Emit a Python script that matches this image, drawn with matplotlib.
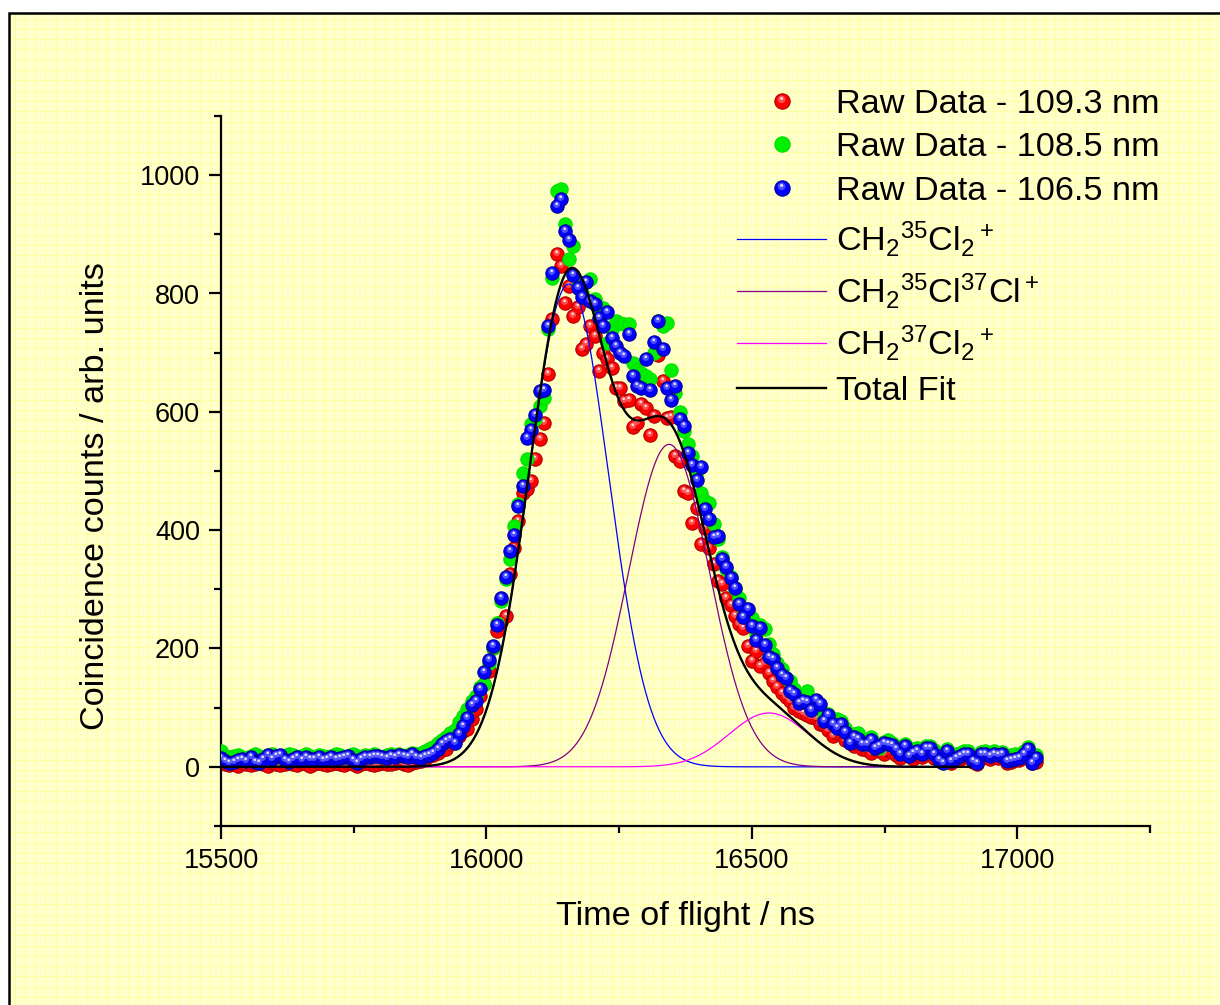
import numpy as np
import matplotlib
matplotlib.use("Agg")
import matplotlib.pyplot as plt
from matplotlib.path import Path
from matplotlib.lines import Line2D
from matplotlib.legend_handler import HandlerTuple
from matplotlib.patches import Rectangle
from matplotlib.ticker import MultipleLocator

plt.rcParams['font.family'] = ['Liberation Sans', 'DejaVu Sans']
plt.rcParams['mathtext.fontset'] = 'custom'
plt.rcParams['mathtext.rm'] = 'Liberation Sans'
plt.rcParams['mathtext.it'] = 'Liberation Sans:italic'
plt.rcParams['mathtext.bf'] = 'Liberation Sans:bold'

# ---------------------------------------------------------------------------
# Coincidence spectra (8 ns time-of-flight bins starting at 15500 ns)
# ---------------------------------------------------------------------------
tof_start = 15500
tof_step = 8

counts_1093 = [
    8, 4, 3, 5, 2, 6, 4, 3, 5, 7, 4, 2, 6, 5, 3, 4, 7, 5, 3, 6, 4, 2, 5, 6, 4, 3, 5, 7, 4, 3,
    6, 5, 2, 4, 6, 5, 3, 4, 7, 5, 4, 6, 8, 5, 3, 7,
    8, 10, 14, 18, 20, 24, 28, 30, 38, 45, 52, 60, 64, 80, 98, 120, 140, 162, 200, 230,
    245, 255, 326, 370, 415, 463,
    470, 483, 520, 554, 581, 664, 757, 866, 846, 784,
    812, 762, 777, 706, 714, 745, 728, 669, 700, 689,
    674, 640, 640, 618, 620, 574, 581, 613, 606, 561,
    593, 696, 652, 590, 591, 525, 517, 466, 463, 412,
    437, 377, 404, 370, 343, 314, 309, 285, 274, 255,
    242, 235, 205, 179, 195, 170, 176, 159, 145, 135,
    125, 118, 111, 100, 95, 91, 88, 85, 83, 73,
    70, 62, 52, 58, 56, 45, 40, 35, 38, 30,
    28, 24, 30, 26,
    22, 28, 25, 20, 15, 24, 18, 14, 20, 17, 25, 22, 15, 10, 8, 18, 6, 12, 14, 16,
    18, 8, 5, 15, 17, 14, 16, 15, 17, 7, 9, 11, 12, 16, 20, 6, 8,
]

counts_1085 = [
    26, 18, 16, 19, 20, 17, 15, 19, 21, 18, 16, 20, 22, 19, 17, 18, 21, 20, 16, 19,
    22, 18, 17, 20, 19, 16, 18, 21, 20, 17, 19, 22, 18, 16, 20, 19, 21, 18, 17, 20,
    22, 19, 21, 18, 20, 23,
    22, 24, 26, 30, 33, 41, 45, 50, 57, 62, 75, 86, 98, 112, 120, 135, 140, 175, 200, 243,
    280, 318, 351, 407, 444, 497,
    520, 580, 588, 610, 623, 740, 826, 973, 976, 917,
    858, 880, 812, 800, 820, 824, 790, 770, 775, 716,
    740, 753, 750, 748, 748, 682, 670, 665, 660, 655,
    700, 753, 745, 750, 670, 632, 600, 568, 545, 525,
    500, 463, 450, 446, 410, 385, 355, 334, 320, 300,
    286, 268, 262, 252, 225, 240, 233, 208, 190, 175,
    165, 150, 145, 132, 118, 115, 128, 105, 108, 100,
    85, 90, 80, 81, 78, 65, 50, 55, 57, 45,
    44, 50, 40, 32,
    42, 45, 40, 35, 30, 38, 28, 30, 32, 28, 36, 35, 28, 20, 18, 30, 18, 22, 24, 26,
    27, 18, 16, 25, 26, 22, 27, 24, 25, 18, 20, 22, 20, 26, 33, 18, 20,
]

counts_1065 = [
    15, 10, 7, 9, 12, 13, 10, 17, 8, 7, 14, 20, 13, 18, 20, 11, 9, 13, 16, 11,
    17, 14, 13, 16, 12, 13, 16, 13, 15, 17, 19, 12, 7, 14, 16, 16, 18, 19, 17, 15,
    19, 16, 20, 19, 17, 21,
    16, 15, 18, 20, 24, 30, 39, 44, 47, 41, 55, 69, 83, 105, 112, 132, 160, 180, 205, 240,
    285, 320, 365, 392, 440, 475,
    555, 570, 595, 635, 637, 745, 835, 948, 959, 905,
    890, 831, 809, 794, 819, 787, 782, 758, 745, 768,
    725, 711, 700, 694, 731, 660, 643, 640, 689, 637,
    718, 753, 706, 640, 620, 643, 588, 576, 530, 510,
    485, 507, 436, 419, 389, 390, 351, 338, 319, 302,
    275, 253, 267, 238, 214, 235, 206, 186, 182, 167,
    155, 150, 128, 123, 108, 112, 110, 96, 113, 106,
    78, 88, 73, 66, 73, 59, 41, 51, 47, 39,
    39, 46, 32, 35,
    40, 39, 37, 30, 22, 35, 19, 24, 27, 22, 32, 32, 22, 12, 7, 27, 10, 15, 18, 22,
    22, 10, 7, 22, 22, 19, 22, 20, 22, 10, 12, 14, 15, 22, 30, 7, 15,
]

series_labels = ['Raw Data - 109.3 nm', 'Raw Data - 108.5 nm', 'Raw Data - 106.5 nm']

# Gaussian fit components for the three isotopologues
fit_centres = [16155, 16344, 16532]
fit_amplitudes = [816, 545, 91]
fit_widths = [75, 76, 75]
fit_labels = [r'CH$_2$$^{35}$Cl$_2$$^+$',
              r'CH$_2$$^{35}$Cl$^{37}$Cl$^+$',
              r'CH$_2$$^{37}$Cl$_2$$^+$']
fit_colors = ['#0000FF', '#800080', '#FF00FF']
fit_start, fit_stop = 15500, 16910

tof = tof_start + tof_step * np.arange(len(counts_1065))

# ---------------------------------------------------------------------------
W, H = 1220, 1005
fig = plt.figure(figsize=(W / 100, H / 100), dpi=100)
fig.patch.set_facecolor('white')

# graph-paper page
bg = fig.add_axes([0, 0, 1, 1], zorder=0)
bg.set_xlim(0, W)
bg.set_ylim(H, 0)
bg.axis('off')
bg.add_patch(Rectangle((9, 13), W + 20, H + 20, facecolor='#FFFFCC', edgecolor='none'))
gx = np.arange(14.5, W, 10.3)
gy = np.arange(18.5, H, 10.3)
bg.vlines(gx, 13, H, color='#FFFFA0', lw=0.7)
bg.hlines(gy, 9, W, color='#FFFFA0', lw=0.7)
bg.plot([9, 9, W + 5], [H + 5, 13, 13], color='black', lw=1.8, solid_joinstyle='miter')

# main plot
ax = fig.add_axes([221 / W, 1 - 826 / H, 929 / W, 710 / H], zorder=1)
ax.patch.set_visible(False)
ax.set_xlim(15500, 17250)
ax.set_ylim(-100, 1100)
for side in ('top', 'right'):
    ax.spines[side].set_visible(False)
for side in ('left', 'bottom'):
    ax.spines[side].set_linewidth(1.6)

ax.xaxis.set_major_locator(MultipleLocator(500))
ax.xaxis.set_minor_locator(MultipleLocator(250))
ax.yaxis.set_major_locator(MultipleLocator(200))
ax.yaxis.set_minor_locator(MultipleLocator(100))
ax.tick_params(which='both', direction='out', width=1.6, labelsize=19.5)
ax.tick_params(which='major', length=9)
ax.tick_params(which='minor', length=5)
ax.tick_params(axis='x', pad=7)
ax.tick_params(axis='y', pad=6)

ax.set_xlabel('Time of flight / ns', fontsize=24.7)
ax.set_ylabel('Coincidence counts / arb. units', fontsize=24.7)
ax.xaxis.set_label_coords(0.5, -0.105)
ax.yaxis.set_label_coords(-0.118, 0.465)


def disc(cx, cy, r):
    """Circular marker path offset inside a fixed [-1, 1] frame."""
    frame = Path([(-1, -1), (1, 1)], [Path.MOVETO, Path.MOVETO])
    return Path.make_compound_path(frame, Path.circle((cx, cy), r))


halo_marker = disc(-0.12, 0.28, 0.5)
spot_marker = disc(-0.12, 0.40, 0.2)

ball_ms = 9.6
ball_styles = [
    dict(face='#FF0000', edge='#B00000', halo='#FF7070', spot='#FFD8D8'),
    dict(face='#00F000', edge='#00E000', halo=None, spot=None),
    dict(face='#0000FF', edge='#0000A0', halo='#7070FF', spot='#E0E0FF'),
]


def ball_artists(style, xs=None, ys=None, z=2):
    xs = [] if xs is None else xs
    ys = [] if ys is None else ys
    arts = [Line2D(xs, ys, ls='none', marker='o', ms=ball_ms, mfc=style['face'],
                   mec=style['edge'], mew=0.8, zorder=z)]
    if style['halo']:
        arts.append(Line2D(xs, ys, ls='none', marker=halo_marker, ms=ball_ms,
                           mfc=style['halo'], mec='none', alpha=0.7, zorder=z))
        arts.append(Line2D(xs, ys, ls='none', marker=spot_marker, ms=ball_ms,
                           mfc=style['spot'], mec='none', zorder=z))
    return arts


handles = []
for i, (counts, style) in enumerate(zip([counts_1093, counts_1085, counts_1065], ball_styles)):
    for art in ball_artists(style, tof, counts, z=2 + i):
        ax.add_line(art)
    handles.append(tuple(ball_artists(style)))

# fitted curves
tof_fit = np.linspace(fit_start, fit_stop, 800)
total = np.zeros_like(tof_fit)
for c, a, w, col in zip(fit_centres, fit_amplitudes, fit_widths, fit_colors):
    comp = a * np.exp(-0.5 * ((tof_fit - c) / w) ** 2)
    total += comp
    ln, = ax.plot(tof_fit, comp, color=col, lw=0.9, zorder=6)
    handles.append(ln)
tl, = ax.plot(tof_fit, total, color='black', lw=1.7, zorder=7)
handles.append(tl)

labels = series_labels + fit_labels + ['Total Fit']
leg = fig.legend(handles, labels, loc='upper left',
                 bbox_to_anchor=(737 / W, 1 - 89 / H),
                 frameon=False, fontsize=24.7, borderpad=0, borderaxespad=0,
                 handlelength=2.6, handletextpad=0.3, labelspacing=0.36,
                 markerscale=1.15,
                 handler_map={tuple: HandlerTuple(ndivide=1, pad=0)})

fig.savefig('out.png', dpi=100, facecolor='white')
